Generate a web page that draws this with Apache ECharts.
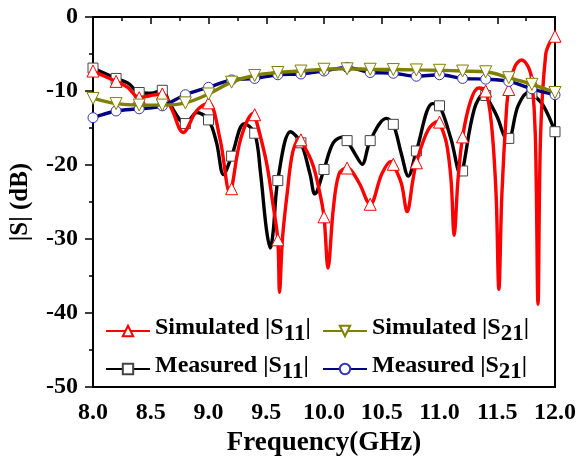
<!DOCTYPE html>
<html>
<head>
<meta charset="utf-8">
<script src="https://cdn.jsdelivr.net/npm/echarts@6/dist/echarts.min.js"></script>
<style>
html,body{margin:0;padding:0;background:#fff;}
#chart{width:579px;height:462px;}
</style>
</head>
<body>
<div id="chart"></div>
<script>
// ---- data (frequency GHz, |S| dB) ----
var simS11 = [[8.0,-7.3],[8.1,-8.0],[8.2,-8.7],[8.3,-9.5],[8.4,-10.9],[8.5,-10.6],[8.6,-10.4],[8.68,-12.4],[8.78,-15.6],[8.9,-12.6],[9.0,-11.6],[9.1,-16.5],[9.185,-23.7],[9.2,-23.2],[9.28,-16.4],[9.39,-13.0],[9.4,-13.2],[9.5,-19.5],[9.56,-25.5],[9.6,-30.1],[9.615,-37.2],[9.64,-30],[9.68,-24],[9.73,-18.2],[9.79,-16.4],[9.8,-16.6],[9.9,-19.8],[9.96,-23.5],[10.0,-27.0],[10.035,-33.9],[10.08,-26],[10.13,-21.2],[10.2,-20.4],[10.3,-22.3],[10.4,-25.3],[10.5,-21.2],[10.58,-19.5],[10.6,-19.9],[10.67,-22.5],[10.72,-26.3],[10.77,-22],[10.8,-19.7],[10.9,-15.3],[10.99,-14.1],[11.0,-14.2],[11.06,-17],[11.1,-22],[11.127,-29.5],[11.16,-22],[11.2,-16.2],[11.27,-11.3],[11.34,-9.6],[11.4,-10],[11.45,-14.5],[11.49,-24],[11.514,-36.8],[11.54,-24],[11.58,-12.5],[11.6,-9.8],[11.65,-6.8],[11.71,-5.8],[11.77,-6.8],[11.8,-8.6],[11.83,-16],[11.853,-38.8],[11.875,-16],[11.92,-5],[11.96,-3.3],[12.0,-2.6]];
var meaS11 = [[8.0,-6.9],[8.1,-7.6],[8.2,-8.3],[8.3,-8.9],[8.4,-10.2],[8.5,-10.3],[8.6,-9.9],[8.67,-11.9],[8.8,-14.4],[8.9,-12.9],[9.0,-13.9],[9.07,-17],[9.13,-21.3],[9.2,-18.8],[9.31,-14.4],[9.4,-15.7],[9.45,-21],[9.5,-28.5],[9.535,-31.2],[9.56,-29],[9.6,-22.1],[9.71,-15.5],[9.8,-17.0],[9.88,-21.3],[9.92,-23.9],[10.0,-20.6],[10.08,-17],[10.17,-16.2],[10.2,-16.7],[10.28,-18.8],[10.33,-19.9],[10.4,-16.7],[10.54,-13.7],[10.6,-14.5],[10.67,-18.5],[10.73,-21.5],[10.8,-18.1],[10.94,-11.7],[11.0,-12.0],[11.1,-16.5],[11.185,-21.3],[11.2,-20.8],[11.3,-12.5],[11.385,-10.4],[11.4,-10.6],[11.5,-13.5],[11.57,-16.3],[11.6,-16.4],[11.68,-12],[11.78,-10.1],[11.8,-10.3],[11.9,-12],[12.0,-15.5]];
var simS21 = [[8.0,-11.0],[8.2,-11.7],[8.4,-11.9],[8.6,-11.9],[8.8,-11.6],[9.0,-10.4],[9.2,-8.8],[9.4,-7.9],[9.6,-7.5],[9.8,-7.3],[10.0,-7.06],[10.2,-7.0],[10.4,-7.06],[10.6,-7.1],[10.8,-7.15],[11.0,-7.2],[11.2,-7.3],[11.4,-7.4],[11.6,-8.2],[11.8,-9.1],[12.0,-10.2]];
var meaS21 = [[8.0,-13.6],[8.2,-12.7],[8.4,-12.4],[8.6,-12.0],[8.8,-10.5],[9.0,-9.5],[9.2,-8.5],[9.4,-8.3],[9.6,-7.8],[9.8,-7.7],[10.0,-7.3],[10.2,-6.8],[10.4,-7.5],[10.6,-7.6],[10.8,-8.0],[11.0,-7.8],[11.2,-8.3],[11.4,-8.4],[11.6,-8.7],[11.8,-9.7],[12.0,-10.5]];
var seriesNames = ['Simulated |S11|','Simulated |S21|','Measured |S11|','Measured |S21|'];
var xTicks = {min: 8, max: 12, step: 0.5};
var yTicks = {min: -50, max: 0, step: 10};

var FONT = '"Liberation Serif", "Times New Roman", serif';

function isMarker(x) {
  var k = x / 0.2;
  return Math.abs(k - Math.round(k)) < 1e-6;
}
function toData(arr) {
  return arr.map(function (p) {
    return isMarker(p[0]) ? {value: p} : {value: p, symbol: 'none'};
  });
}
function lineSeries(name, data, color, markerStroke, shape, size, rot, z) {
  return {
    name: name, type: 'line', data: toData(data), smooth: 0.35,
    symbol: shape, symbolSize: size, symbolRotate: rot,
    showAllSymbol: true, z: z,
    lineStyle: {color: color, width: 3.4},
    itemStyle: {color: '#fff', borderColor: markerStroke, borderWidth: 1},
    emphasis: {disabled: true},
    animation: false
  };
}
var legendLabels = {
  'Simulated |S11|': '{t|Simulated |S}{s|11}{t||}',
  'Simulated |S21|': '{t|Simulated |S}{s|21}{t||}',
  'Measured |S11|': '{t|Measured |S}{s|11}{t||}',
  'Measured |S21|': '{t|Measured |S}{s|21}{t||}'
};
var legendText = {
  color: '#000', fontFamily: FONT, fontWeight: 'bold', fontSize: 24,
  rich: {
    t: {fontFamily: FONT, fontWeight: 'bold', fontSize: 24, verticalAlign: 'bottom', padding: [0,0,6,0]},
    s: {fontFamily: FONT, fontWeight: 'bold', fontSize: 23, verticalAlign: 'bottom'}
  }
};
function legend(left, items) {
  return {
    left: left, top: 311, orient: 'vertical', itemGap: 8,
    itemWidth: 44, itemHeight: 13,
    data: items,
    formatter: function (n) { return legendLabels[n]; },
    textStyle: legendText, selectedMode: false
  };
}

var chart = echarts.init(document.getElementById('chart'), null, {renderer: 'canvas'});
chart.setOption({
  backgroundColor: '#fff',
  animation: false,
  grid: {left: 91.5, right: 22.5, top: 17, bottom: 69.5, show: true, borderColor: '#000', borderWidth: 2, backgroundColor: 'transparent'},
  xAxis: {
    type: 'value', min: xTicks.min, max: xTicks.max, interval: xTicks.step,
    name: 'Frequency(GHz)', nameLocation: 'middle', nameGap: 40,
    nameTextStyle: {fontFamily: FONT, fontWeight: 'bold', fontSize: 27, color: '#000'},
    axisLine: {lineStyle: {color: '#000', width: 2}},
    axisTick: {show: true, inside: false, length: 7, lineStyle: {color: '#000', width: 1.5}},
    minorTick: {show: true, splitNumber: 2, length: 4, lineStyle: {color: '#000', width: 1.5}},
    splitLine: {show: false},
    axisLabel: {fontFamily: FONT, fontWeight: 'bold', fontSize: 24, color: '#000', margin: 14,
      formatter: function (v) { return v.toFixed(1); }}
  },
  yAxis: {
    type: 'value', min: yTicks.min, max: yTicks.max, interval: yTicks.step,
    name: '|S| (dB)', nameLocation: 'middle', nameGap: 60,
    nameTextStyle: {fontFamily: FONT, fontWeight: 'bold', fontSize: 25, color: '#000'},
    axisLine: {lineStyle: {color: '#000', width: 2}},
    axisTick: {show: true, inside: false, length: 8, lineStyle: {color: '#000', width: 1.5}},
    minorTick: {show: true, splitNumber: 2, length: 4, lineStyle: {color: '#000', width: 1.5}},
    splitLine: {show: false},
    axisLabel: {fontFamily: FONT, fontWeight: 'bold', fontSize: 24, color: '#000', margin: 15}
  },
  legend: [
    legend(100, [seriesNames[0], seriesNames[2]]),
    legend(317, [seriesNames[1], seriesNames[3]])
  ],
  series: [
    lineSeries(seriesNames[2], meaS11, '#000000', '#444444', 'rect', 10, 0, 2),
    lineSeries(seriesNames[0], simS11, '#ff0000', '#ff0000', 'triangle', 12, 0, 3),
    lineSeries(seriesNames[3], meaS21, '#000080', '#3333bb', 'circle', 10, 0, 4),
    lineSeries(seriesNames[1], simS21, '#808000', '#808000', 'triangle', 12, 180, 5)
  ]
});
</script>
</body>
</html>
